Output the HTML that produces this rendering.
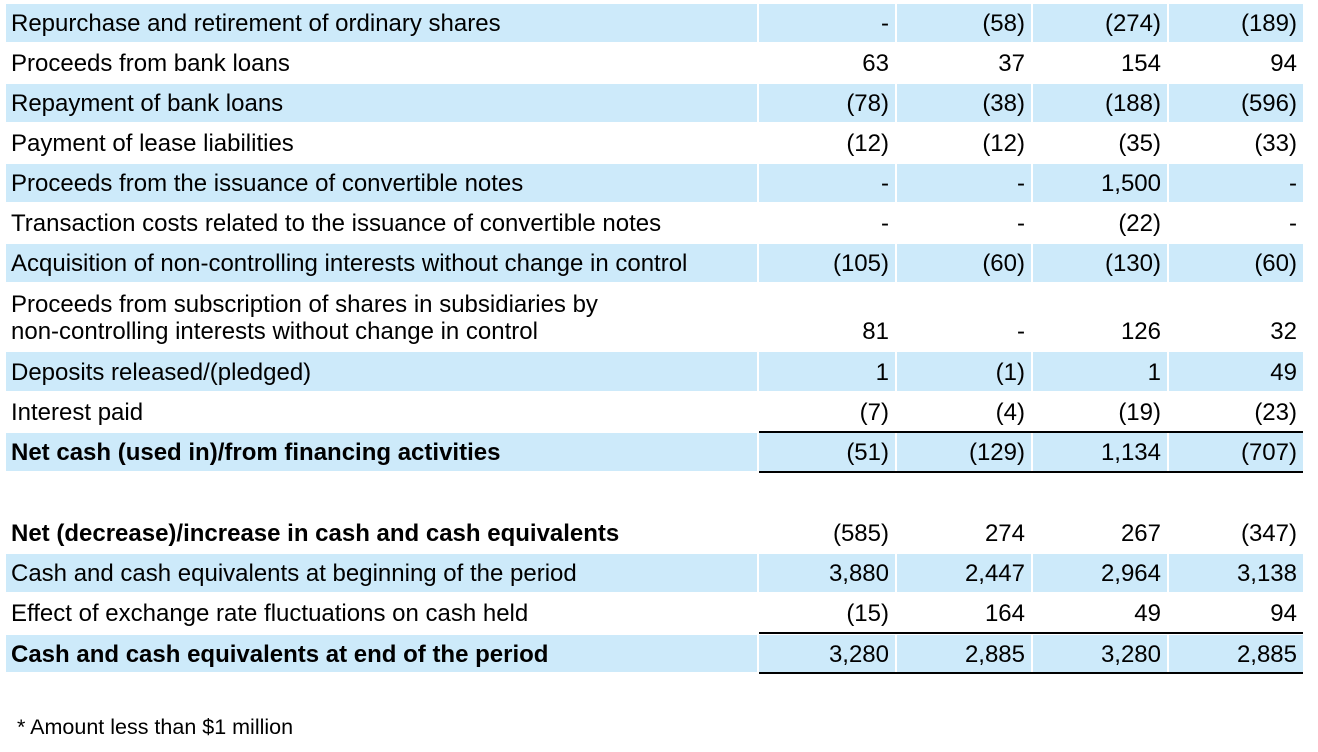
<!DOCTYPE html>
<html><head><meta charset="utf-8"><style>
body{margin:0;width:1318px;height:752px;background:#fff;font-family:"Liberation Sans",Arial,sans-serif;font-size:24px;color:#000;position:relative;overflow:hidden}
.r{position:absolute;left:0;width:1318px}
.c{position:absolute;top:0;bottom:0;display:flex;align-items:center;padding-top:2px;box-sizing:border-box;white-space:nowrap}
.l{left:6px;width:751px;padding-left:5px}
.v{justify-content:flex-end;padding-right:6px}
.v1{left:759px;width:136px}.v2{left:897px;width:134px}.v3{left:1033px;width:134px}.v4{left:1169px;width:134px}
.s .c{background:#cdeafa}
.b{font-weight:bold}
.line{position:absolute;left:759px;width:544px;height:2px;background:#000}
</style></head><body>
<div class="r s" style="top:4px;height:38px"><div class="c l">Repurchase and retirement of ordinary shares</div><div class="c v v1">-</div><div class="c v v2">(58)</div><div class="c v v3">(274)</div><div class="c v v4">(189)</div></div>
<div class="r" style="top:44px;height:38px"><div class="c l">Proceeds from bank loans</div><div class="c v v1">63</div><div class="c v v2">37</div><div class="c v v3">154</div><div class="c v v4">94</div></div>
<div class="r s" style="top:84px;height:38px"><div class="c l">Repayment of bank loans</div><div class="c v v1">(78)</div><div class="c v v2">(38)</div><div class="c v v3">(188)</div><div class="c v v4">(596)</div></div>
<div class="r" style="top:124px;height:38px"><div class="c l">Payment of lease liabilities</div><div class="c v v1">(12)</div><div class="c v v2">(12)</div><div class="c v v3">(35)</div><div class="c v v4">(33)</div></div>
<div class="r s" style="top:164px;height:38px"><div class="c l">Proceeds from the issuance of convertible notes</div><div class="c v v1">-</div><div class="c v v2">-</div><div class="c v v3">1,500</div><div class="c v v4">-</div></div>
<div class="r" style="top:204px;height:38px"><div class="c l">Transaction costs related to the issuance of convertible notes</div><div class="c v v1">-</div><div class="c v v2">-</div><div class="c v v3">(22)</div><div class="c v v4">-</div></div>
<div class="r s" style="top:244px;height:38px"><div class="c l">Acquisition of non-controlling interests without change in control</div><div class="c v v1">(105)</div><div class="c v v2">(60)</div><div class="c v v3">(130)</div><div class="c v v4">(60)</div></div>
<div class="r" style="top:284px;height:66px"><div class="c l" style="line-height:27px;align-items:flex-start;padding-top:7px">Proceeds from subscription of shares in subsidiaries by<br>non-controlling interests without change in control</div><div class="c v v1" style="padding-top:30px">81</div><div class="c v v2" style="padding-top:30px">-</div><div class="c v v3" style="padding-top:30px">126</div><div class="c v v4" style="padding-top:30px">32</div></div>
<div class="r s" style="top:352px;height:39px"><div class="c l">Deposits released/(pledged)</div><div class="c v v1">1</div><div class="c v v2">(1)</div><div class="c v v3">1</div><div class="c v v4">49</div></div>
<div class="r" style="top:393px;height:38px"><div class="c l">Interest paid</div><div class="c v v1">(7)</div><div class="c v v2">(4)</div><div class="c v v3">(19)</div><div class="c v v4">(23)</div></div>
<div class="r s" style="top:433px;height:38px"><div class="c l b">Net cash (used in)/from financing activities</div><div class="c v v1">(51)</div><div class="c v v2">(129)</div><div class="c v v3">1,134</div><div class="c v v4">(707)</div></div>
<div class="line" style="top:431px"></div><div class="line" style="top:471px"></div>
<div class="r" style="top:514px;height:38px"><div class="c l b">Net (decrease)/increase in cash and cash equivalents</div><div class="c v v1">(585)</div><div class="c v v2">274</div><div class="c v v3">267</div><div class="c v v4">(347)</div></div>
<div class="r s" style="top:554px;height:38px"><div class="c l">Cash and cash equivalents at beginning of the period</div><div class="c v v1">3,880</div><div class="c v v2">2,447</div><div class="c v v3">2,964</div><div class="c v v4">3,138</div></div>
<div class="r" style="top:594px;height:38px"><div class="c l">Effect of exchange rate fluctuations on cash held</div><div class="c v v1">(15)</div><div class="c v v2">164</div><div class="c v v3">49</div><div class="c v v4">94</div></div>
<div class="r s" style="top:635px;height:37px"><div class="c l b">Cash and cash equivalents at end of the period</div><div class="c v v1">3,280</div><div class="c v v2">2,885</div><div class="c v v3">3,280</div><div class="c v v4">2,885</div></div>
<div class="line" style="top:632px"></div><div class="line" style="top:672px"></div>
<div style="position:absolute;left:17px;top:715px;font-size:21.5px">* Amount less than $1 million</div>
</body></html>
